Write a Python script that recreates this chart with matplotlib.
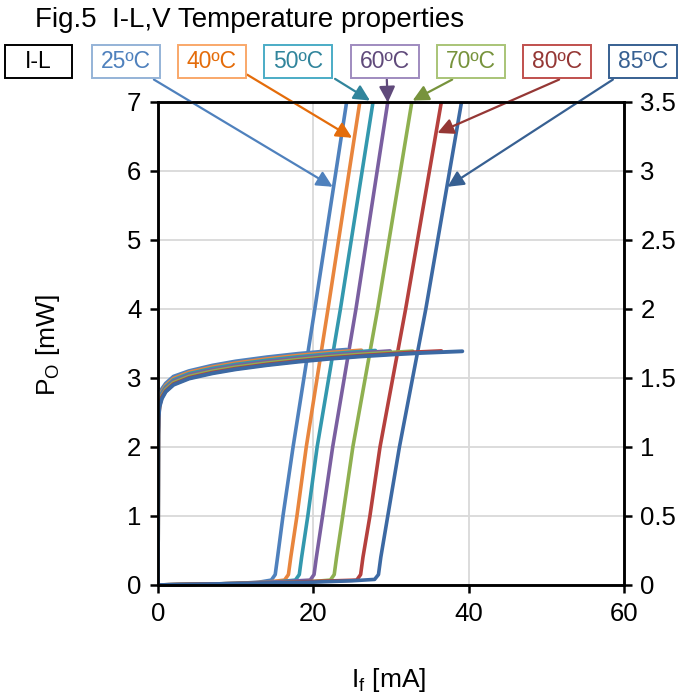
import matplotlib
matplotlib.use("Agg")
import matplotlib.pyplot as plt
from matplotlib.patches import Rectangle

plt.rcParams['font.family'] = ['Liberation Sans', 'DejaVu Sans']

# temperatures, colours
temps = ['25ºC', '40ºC', '50ºC', '60ºC', '70ºC', '80ºC', '85ºC']
line_colors = ['#4F81BD', '#E8853D', '#3398AE', '#7A5FA0', '#8FB050', '#B5403D', '#3C69A3']
text_colors = ['#4F81BD', '#E46C0A', '#31859C', '#604A7B', '#77933C', '#953735', '#376092']
edge_colors = ['#95B3D7', '#F9A86A', '#4BACC6', '#9F8BBF', '#A9C477', '#C0504D', '#376092']

# I-L curves (left axis, mW)
il_i = [
    [0, 5, 10, 13, 14.6, 15.1, 15.4, 16.1, 17.4, 20.2, 24.3],
    [0, 5, 10, 14, 16.3, 16.8, 17.1, 17.9, 19.1, 21.9, 26.0],
    [0, 5, 10, 15, 17.7, 18.2, 18.5, 19.3, 20.5, 23.5, 27.7],
    [0, 5, 10, 15, 19.6, 20.1, 20.4, 21.2, 22.5, 25.5, 29.6],
    [0, 5, 10, 15, 20, 22.2, 22.7, 23.0, 23.8, 25.1, 28.3, 32.7],
    [0, 5, 10, 15, 20, 25.6, 26.1, 26.4, 27.3, 28.6, 31.9, 36.5],
    [0, 5, 10, 15, 20, 25, 27.9, 28.4, 28.7, 29.6, 31.1, 34.5, 39.1],
]
il_p = [
    [0, 0.01, 0.02, 0.04, 0.07, 0.15, 0.4, 1, 2, 4, 7],
    [0, 0.01, 0.02, 0.04, 0.07, 0.15, 0.4, 1, 2, 4, 7],
    [0, 0.01, 0.02, 0.04, 0.07, 0.15, 0.4, 1, 2, 4, 7],
    [0, 0.01, 0.02, 0.04, 0.07, 0.15, 0.4, 1, 2, 4, 7],
    [0, 0.01, 0.02, 0.03, 0.05, 0.07, 0.15, 0.4, 1, 2, 4, 7],
    [0, 0.01, 0.02, 0.03, 0.05, 0.07, 0.15, 0.4, 1, 2, 4, 7],
    [0, 0.01, 0.02, 0.03, 0.04, 0.06, 0.08, 0.15, 0.4, 1, 2, 4, 7],
]

# I-V curves (right axis, V)
iv_i = [
    [0, 0.03, 0.08, 0.2, 0.5, 1, 2, 4, 7, 10, 14, 18, 22, 24.3],
    [0, 0.03, 0.08, 0.2, 0.5, 1, 2, 4, 7, 10, 14, 18, 22, 26.2],
    [0, 0.03, 0.08, 0.2, 0.5, 1, 2, 4, 7, 10, 14, 18, 22, 25, 28.0],
    [0, 0.03, 0.08, 0.2, 0.5, 1, 2, 4, 7, 10, 14, 18, 22, 26, 29.9],
    [0, 0.03, 0.08, 0.2, 0.5, 1, 2, 4, 7, 10, 14, 18, 22, 26, 30, 32.8],
    [0, 0.03, 0.08, 0.2, 0.5, 1, 2, 4, 7, 10, 14, 18, 22, 26, 30, 33, 36.5],
    [0, 0.03, 0.08, 0.2, 0.5, 1, 2, 4, 7, 10, 14, 18, 22, 26, 30, 34, 39.2],
]
iv_v = [
    [0, 1.15, 1.28, 1.36, 1.42, 1.46, 1.51, 1.55, 1.59, 1.62, 1.65, 1.675, 1.695, 1.705],
    [0, 1.13, 1.26, 1.34, 1.40, 1.445, 1.495, 1.54, 1.578, 1.607, 1.637, 1.662, 1.683, 1.70],
    [0, 1.12, 1.25, 1.33, 1.39, 1.435, 1.485, 1.53, 1.568, 1.597, 1.627, 1.652, 1.673, 1.686, 1.698],
    [0, 1.11, 1.24, 1.32, 1.38, 1.425, 1.475, 1.52, 1.558, 1.587, 1.617, 1.642, 1.663, 1.680, 1.695],
    [0, 1.10, 1.23, 1.31, 1.37, 1.415, 1.465, 1.51, 1.548, 1.577, 1.607, 1.632, 1.653, 1.670, 1.684, 1.693],
    [0, 1.09, 1.22, 1.30, 1.36, 1.405, 1.455, 1.50, 1.538, 1.567, 1.597, 1.622, 1.643, 1.660, 1.674, 1.686, 1.695],
    [0, 1.08, 1.21, 1.29, 1.35, 1.40, 1.45, 1.495, 1.533, 1.562, 1.592, 1.617, 1.638, 1.655, 1.669, 1.681, 1.693],
]

# arrow tips (data) and tails (figure fraction)
tips = [(22.5, 5.77), (25.0, 6.48), (27.3, 7.02), (29.6, 6.99), (32.8, 7.02), (36.0, 6.55), (37.3, 5.77)]
tails = [(0.226, 0.886), (0.363, 0.893), (0.492, 0.887), (0.568, 0.886), (0.664, 0.886), (0.821, 0.886), (0.900, 0.886)]
# label boxes, left edges in pixels
box_left = [92, 178, 264, 351, 437, 523, 609]

W, H = 681, 698
fig = plt.figure(figsize=(6.81, 6.98), dpi=100)
ax = fig.add_axes([0.232, 0.162, 0.684, 0.692])
ax2 = ax.twinx()

for k in range(len(temps)):
    ax.plot(il_i[k], il_p[k], color=line_colors[k], lw=2.6, solid_capstyle='butt', clip_on=False)
    ax2.plot(iv_i[k], iv_v[k], color=line_colors[k], lw=2.8, solid_capstyle='round')

ax.set_xlim(0, 60)
ax.set_ylim(0, 7)
ax2.set_ylim(0, 3.5)
ax.set_xticks([0, 20, 40, 60])
ax.set_yticks(range(8))
ax2.set_yticks([0, 0.5, 1, 1.5, 2, 2.5, 3, 3.5])
ax2.set_yticklabels(['0', '0.5', '1', '1.5', '2', '2.5', '3', '3.5'])
ax.grid(True, color='#D9D9D9', lw=1.3)
ax.set_axisbelow(True)

for a in (ax, ax2):
    for s in a.spines.values():
        s.set_linewidth(1.8)
        s.set_color('black')
    a.tick_params(direction='out', length=6, width=1.8, labelsize=18.5, pad=6)

fig.text(0.051, 0.971, 'Fig.5  I-L,V Temperature properties', fontsize=20, ha='left', va='center')

# I-L box
fig.patches.append(Rectangle((5 / W, 1 - 78 / H), 67 / W, 33 / H, transform=fig.transFigure,
                             fc='white', ec='black', lw=1.4))
fig.text(38.5 / W, 1 - 61.5 / H, 'I-L', fontsize=16.5, ha='center', va='center')

for k in range(len(temps)):
    fig.patches.append(Rectangle((box_left[k] / W, 1 - 78 / H), 68 / W, 33 / H, transform=fig.transFigure,
                                 fc='white', ec=edge_colors[k], lw=1.4))
    fig.text((box_left[k] + 34) / W, 1 - 61.5 / H, temps[k], fontsize=16.5, color=text_colors[k],
             ha='center', va='center')
    ax.annotate('', xy=tips[k], xycoords='data', xytext=tails[k], textcoords='figure fraction',
                annotation_clip=False,
                arrowprops=dict(arrowstyle='-|>', color=text_colors[k], lw=1.6, mutation_scale=24,
                                shrinkA=0, shrinkB=0))

fig.text(0.570, 0.026, r'I$_\mathregular{f}$ [mA]', fontsize=19, ha='center', va='center')
fig.text(0.070, 0.506, r'P$_\mathregular{O}$ [mW]', fontsize=19, ha='center', va='center', rotation=90)

fig.savefig('out.png', dpi=100)
